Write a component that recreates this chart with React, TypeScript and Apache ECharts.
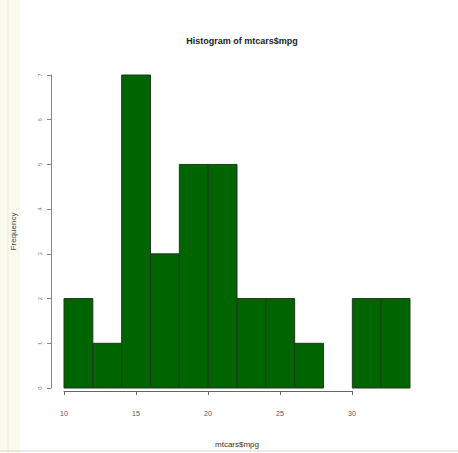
import React, { useEffect, useRef } from "react";
import * as echarts from "echarts";

const binStarts = [10, 12, 14, 16, 18, 20, 22, 24, 26, 28, 30, 32];
const binWidth = 2;
const counts = [2, 1, 7, 3, 5, 5, 2, 2, 1, 0, 2, 2];
const xTicks = [10, 15, 20, 25, 30];
const yTicks = [0, 1, 2, 3, 4, 5, 6, 7];

export default function App() {
  const ref = useRef<HTMLDivElement>(null);
  useEffect(() => {
    const chart = echarts.init(ref.current!, null, { renderer: "svg" });
    const data = binStarts.map((s, i) => [s, s + binWidth, counts[i]]);
    chart.setOption({
      animation: false,
      backgroundColor: "#ffffff",
      title: {
        text: "Histogram of mtcars$mpg",
        left: 237,
        textAlign: "center",
        top: 31,
        textStyle: { fontSize: 9, fontWeight: "bold", color: "#222", fontFamily: "Liberation Sans" },
      },
      graphic: [
        { type: "rect", shape: { x: 0, y: 0, width: 20, height: 453 }, style: { fill: "#fbfaee" }, silent: true },
        { type: "line", shape: { x1: 8, y1: 0, x2: 8, y2: 453 }, style: { stroke: "#eeeedd", lineWidth: 1 }, silent: true },
        { type: "line", shape: { x1: 0, y1: 451, x2: 458, y2: 451 }, style: { stroke: "#d8d8d0", lineWidth: 1 }, silent: true },
      ],
      grid: [
        { left: 64, right: 48, top: 75, bottom: 62 },
        { left: 64, width: 288, top: 75, bottom: 62 },
      ],
      xAxis: [
        {
          type: "value",
          gridIndex: 0,
          min: 10,
          max: 34,
          axisLine: { show: false },
          axisTick: { show: false },
          axisLabel: { show: false },
          splitLine: { show: false },
          name: "mtcars$mpg",
          nameLocation: "middle",
          nameGap: 52,
          nameTextStyle: { fontSize: 8, color: "#333", fontFamily: "Liberation Sans" },
        },
        {
          type: "value",
          gridIndex: 1,
          min: 10,
          max: 30,
          interval: 5,
          offset: 13,
          axisLine: { show: true, lineStyle: { color: "#666", width: 1 } },
          axisTick: { show: true, length: 4, lineStyle: { color: "#666" } },
          axisLabel: {
            fontSize: 7,
            color: "#555",
            margin: 6,
            fontFamily: "Liberation Sans",
            customValues: xTicks,
          },
          splitLine: { show: false },
        },
      ],
      yAxis: [
        {
          type: "value",
          gridIndex: 0,
          min: 0,
          max: 7,
          interval: 1,
          offset: 13,
          axisLine: { show: true, lineStyle: { color: "#888", width: 1 } },
          axisTick: { show: true, length: 4, lineStyle: { color: "#888" } },
          axisLabel: {
            fontSize: 6,
            color: "#777",
            rotate: 90,
            margin: 8,
            fontFamily: "Liberation Sans",
            customValues: yTicks,
          },
          splitLine: { show: false },
          name: "Frequency",
          nameLocation: "middle",
          nameGap: 34,
          nameTextStyle: { fontSize: 8, color: "#444", fontFamily: "Liberation Sans" },
        },
        {
          type: "value",
          gridIndex: 1,
          show: false,
          min: 0,
          max: 7,
        },
      ],
      series: [
        {
          type: "custom",
          xAxisIndex: 0,
          yAxisIndex: 0,
          data,
          encode: { x: [0, 1], y: 2 },
          renderItem: (params: any, api: any) => {
            const x0 = api.value(0);
            const x1 = api.value(1);
            const c = api.value(2);
            if (!c) return null;
            const p0 = api.coord([x0, 0]);
            const p1 = api.coord([x1, c]);
            return {
              type: "rect",
              shape: { x: p0[0], y: p1[1], width: p1[0] - p0[0], height: p0[1] - p1[1] },
              style: { fill: "#006400", stroke: "#1f3a1f", lineWidth: 1 },
            };
          },
        },
      ],
    });
    return () => chart.dispose();
  }, []);
  return (
    <div
      ref={ref}
      style={{ position: "absolute", left: 0, top: 0, width: 458, height: 453 }}
    />
  );
}
